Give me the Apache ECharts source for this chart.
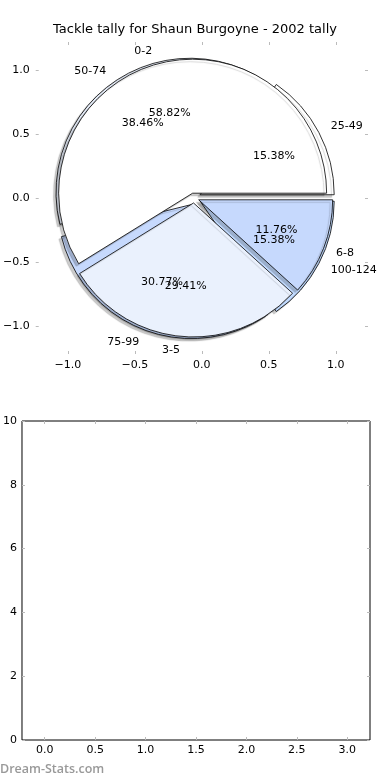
<!DOCTYPE html>
<html><head><meta charset="utf-8">
<script src="https://cdn.jsdelivr.net/npm/echarts@6/dist/echarts.min.js"></script>
<style>html,body{margin:0;padding:0;background:#fff}#c{width:390px;height:780px}</style>
</head><body><div id="c"></div>
<script>
const titleText = 'Tackle tally for Shaun Burgoyne - 2002 tally';
const tallyA = ['0-2', '3-5', '6-8'];
const countA = [10, 5, 2];
const tallyB = ['25-49', '50-74', '75-99', '100-124'];
const countB = [2, 5, 4, 2];
const pieTicks = [-1.0, -0.5, 0.0, 0.5, 1.0];
const emptyXTicks = [0.0, 0.5, 1.0, 1.5, 2.0, 2.5, 3.0];
const emptyYTicks = [0, 2, 4, 6, 8, 10];

const colorsA = ['#ffffff', '#eaf1fd', '#c6d9fd'];
const colorsB = ['#ffffff', '#eaf1fd', '#c6d9fd', '#c2dbff'];
const FONT = 'DejaVu Sans';
const R = 134, CX = 194, CY = 198;
const TICK = {color: '#bbbbbb', width: 1};

function fmt1(v) {
  const s = Math.abs(v).toFixed(1);
  return v < -1e-9 ? '\u2212' + s : s;
}

function pieSeries(names, counts, colors, offset) {
  const total = counts.reduce((a, b) => a + b, 0);
  const mk = (transparent) => names.map((n, i) => ({
    name: n, value: counts[i], selected: true,
    itemStyle: {color: transparent ? 'rgba(0,0,0,0)' : colors[i]}
  }));
  const base = {
    type: 'pie', center: [CX, CY], startAngle: 0, clockwise: false,
    selectedMode: 'multiple', selectedOffset: offset,
    avoidLabelOverlap: false, animation: false,
    labelLayout: {hideOverlap: false},
    emphasis: {disabled: true}
  };
  const edge = {borderColor: '#000', borderWidth: 0.8,
    shadowBlur: 1, shadowColor: 'rgba(0,0,0,0.2)', shadowOffsetX: -2.5, shadowOffsetY: 2.5};
  const wedges = Object.assign({}, base, {
    radius: R, z: 3,
    itemStyle: edge,
    select: {itemStyle: edge, label: {color: '#000'}},
    label: {show: true, position: 'outside', formatter: '{b}', color: '#000',
      fontFamily: FONT, fontSize: 11, distanceToLabelLine: 0},
    labelLine: {show: false, length: R * 0.1, length2: 0},
    data: mk(false)
  });
  const noEdge = {borderWidth: 0, shadowBlur: 0, shadowOffsetX: 0, shadowOffsetY: 0, color: 'rgba(0,0,0,0)'};
  const pct = Object.assign({}, base, {
    radius: [R * 0.2, R], z: 4, silent: true,
    itemStyle: noEdge,
    select: {itemStyle: noEdge, label: {color: '#000'}},
    label: {show: true, position: 'inside', color: '#000', fontFamily: FONT, fontSize: 11,
      formatter: p => (p.value / total * 100).toFixed(2) + '%'},
    labelLine: {show: false},
    data: mk(true)
  });
  return [wedges, pct];
}

const [wB, pB] = pieSeries(tallyB, countB, colorsB, 7);
const [wA, pA] = pieSeries(tallyA, countA, colorsA, 5);

function ax(extra, ticks, showLabel, margin) {
  return Object.assign({
    type: 'value', axisLine: {show: false, onZero: false}, splitLine: {show: false},
    axisTick: {show: true, inside: true, length: 3, lineStyle: TICK, customValues: ticks},
    axisLabel: showLabel
      ? {customValues: ticks, formatter: extra.fmt || fmt1, margin: margin,
         color: '#000', fontFamily: FONT, fontSize: 11}
      : {show: false}
  }, extra, {fmt: undefined});
}

const option = {
  backgroundColor: '#fff',
  animation: false,
  title: {text: titleText, left: 'center', top: 23, padding: 0,
    textStyle: {fontFamily: FONT, fontSize: 13, fontWeight: 'normal', color: '#000'}},
  grid: [
    {left: 21, right: 22, top: 42, bottom: 426, show: false},
    {left: 19, right: 20, top: 421, bottom: 40, show: true, borderColor: '#000', borderWidth: 1, backgroundColor: 'transparent'}
  ],
  xAxis: [
    ax({gridIndex: 0, position: 'bottom', min: -1.24, max: 1.24}, pieTicks, true, 6),
    ax({gridIndex: 0, position: 'top', min: -1.24, max: 1.24}, pieTicks, false),
    ax({gridIndex: 1, position: 'bottom', min: -0.225, max: 3.225}, emptyXTicks, true, 5),
    ax({gridIndex: 1, position: 'top', min: -0.225, max: 3.225}, emptyXTicks, false)
  ],
  yAxis: [
    ax({gridIndex: 0, position: 'left', min: -1.22, max: 1.22}, pieTicks, true, 6),
    ax({gridIndex: 0, position: 'right', min: -1.22, max: 1.22}, pieTicks, false),
    ax({gridIndex: 1, position: 'left', min: 0, max: 10, interval: 2, fmt: v => String(v)}, emptyYTicks, true, 5),
    ax({gridIndex: 1, position: 'right', min: 0, max: 10, interval: 2}, emptyYTicks, false)
  ],
  graphic: [
    {type: 'text', left: 0, top: 763, z: 10,
      style: {text: 'Dream-Stats.com', fill: '#999999', font: '600 12.5px "Open Sans"'}}
  ],
  series: [wB, wA, pB, pA]
};

const chart = echarts.init(document.getElementById('c'), null, {renderer: 'canvas'});
chart.setOption(option);
</script>
</body></html>
